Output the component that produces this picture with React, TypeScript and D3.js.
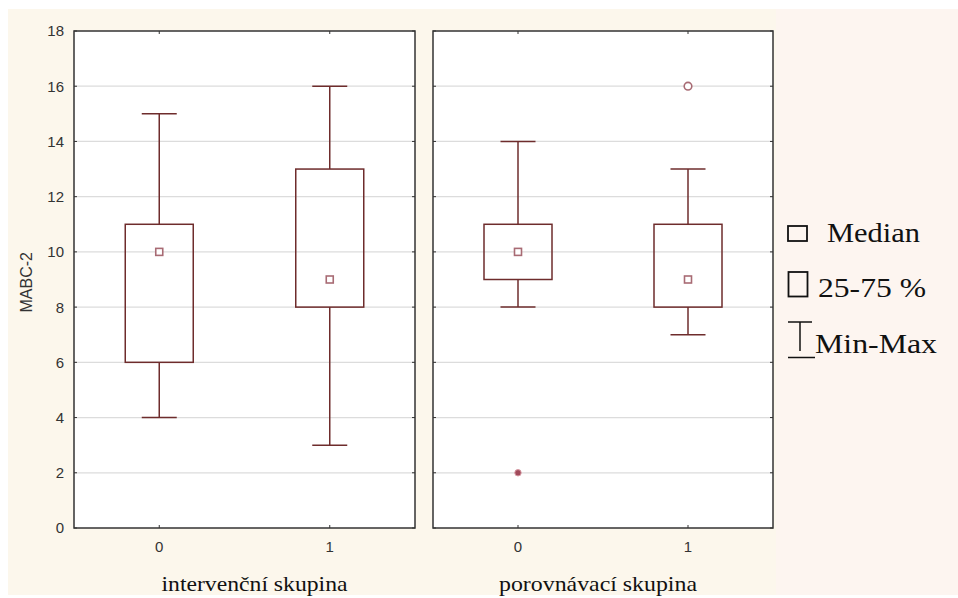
import React, { useRef, useEffect } from 'react';
import * as d3 from 'd3';

// Box plot data (MABC-2)
const groups = ['intervenční skupina', 'porovnávací skupina'];
const categories = ['0', '1'];
const minValues = [[4, 3], [8, 7]];
const q1Values = [[6, 8], [9, 8]];
const medianValues = [[10, 9], [10, 9]];
const q3Values = [[11, 13], [11, 11]];
const maxValues = [[15, 16], [14, 13]];
const outliers = [{ group: 1, cat: '1', value: 16 }];
const extremes = [{ group: 1, cat: '0', value: 2 }];
const yTicks = [0, 2, 4, 6, 8, 10, 12, 14, 16, 18];
const legendLabels = ['Median', '25-75 %', 'Min-Max'];

export default function App() {
  const svgRef = useRef<SVGSVGElement>(null);

  useEffect(() => {
    const w = 958;
    const h = 598;
    const top = 31;
    const bottom = 528;
    const panels = [
      { x0: 74, x1: 415 },
      { x0: 433, x1: 773 },
    ];
    const boxColor = '#6e2c2c';
    const markColor = '#a86b74';
    const sans = "'Liberation Sans', Arial, sans-serif";
    const serif = "'Liberation Serif', 'Times New Roman', serif";

    const svg = d3.select(svgRef.current);
    svg.selectAll('*').remove();
    svg.attr('width', w).attr('height', h);

    // backgrounds
    svg.append('rect').attr('width', w).attr('height', h).attr('fill', '#ffffff');
    svg.append('rect').attr('x', 8).attr('y', 9).attr('width', w - 8).attr('height', h - 12).attr('fill', '#fcf7ec');
    svg.append('rect').attr('x', 776).attr('y', 9).attr('width', w - 776).attr('height', h - 12).attr('fill', '#fdf5f0');

    const yScale = d3.scaleLinear().domain([0, 18]).range([bottom, top]);

    panels.forEach((p, gi) => {
      const xScale = d3.scalePoint<string>().domain(categories).range([p.x0, p.x1]).padding(0.5);
      const g = svg.append('g');

      g.append('rect')
        .attr('x', p.x0).attr('y', top)
        .attr('width', p.x1 - p.x0).attr('height', bottom - top)
        .attr('fill', '#ffffff');

      // grid lines
      g.selectAll('line.grid')
        .data(yTicks.filter(t => t > 0 && t < 18))
        .enter().append('line')
        .attr('x1', p.x0).attr('x2', p.x1)
        .attr('y1', d => yScale(d)).attr('y2', d => yScale(d))
        .attr('stroke', '#dcdcdc').attr('stroke-width', 1.2);

      // y ticks, inside on both sides
      yTicks.forEach(t => {
        g.append('line').attr('x1', p.x0).attr('x2', p.x0 + 3).attr('y1', yScale(t)).attr('y2', yScale(t))
          .attr('stroke', '#333').attr('stroke-width', 1);
        g.append('line').attr('x1', p.x1 - 3).attr('x2', p.x1).attr('y1', yScale(t)).attr('y2', yScale(t))
          .attr('stroke', '#333').attr('stroke-width', 1);
      });

      // x ticks top/bottom
      categories.forEach(c => {
        const x = xScale(c) as number;
        g.append('line').attr('x1', x).attr('x2', x).attr('y1', top).attr('y2', top + 3).attr('stroke', '#333');
        g.append('line').attr('x1', x).attr('x2', x).attr('y1', bottom - 3).attr('y2', bottom).attr('stroke', '#333');
        g.append('text')
          .attr('x', x).attr('y', 552)
          .attr('text-anchor', 'middle')
          .attr('font-family', sans)
          .attr('font-size', 15).attr('fill', '#333')
          .text(c);
      });

      // boxes
      categories.forEach((c, ci) => {
        const x = xScale(c) as number;
        const boxW = 68;
        const capW = 35;
        const mn = minValues[gi][ci];
        const q1 = q1Values[gi][ci];
        const med = medianValues[gi][ci];
        const q3 = q3Values[gi][ci];
        const mx = maxValues[gi][ci];

        g.append('line').attr('x1', x).attr('x2', x).attr('y1', yScale(mx)).attr('y2', yScale(q3))
          .attr('stroke', boxColor).attr('stroke-width', 1.5);
        g.append('line').attr('x1', x).attr('x2', x).attr('y1', yScale(q1)).attr('y2', yScale(mn))
          .attr('stroke', boxColor).attr('stroke-width', 1.5);
        g.append('line').attr('x1', x - capW / 2).attr('x2', x + capW / 2).attr('y1', yScale(mx)).attr('y2', yScale(mx))
          .attr('stroke', boxColor).attr('stroke-width', 1.5);
        g.append('line').attr('x1', x - capW / 2).attr('x2', x + capW / 2).attr('y1', yScale(mn)).attr('y2', yScale(mn))
          .attr('stroke', boxColor).attr('stroke-width', 1.5);
        g.append('rect')
          .attr('x', x - boxW / 2).attr('y', yScale(q3))
          .attr('width', boxW).attr('height', yScale(q1) - yScale(q3))
          .attr('fill', 'none').attr('stroke', boxColor).attr('stroke-width', 1.5);
        g.append('rect')
          .attr('x', x - 3.5).attr('y', yScale(med) - 3.5)
          .attr('width', 7).attr('height', 7)
          .attr('fill', '#fff').attr('stroke', markColor).attr('stroke-width', 1.6);
      });

      outliers.filter(o => o.group === gi).forEach(o => {
        g.append('circle')
          .attr('cx', xScale(o.cat) as number).attr('cy', yScale(o.value)).attr('r', 3.8)
          .attr('fill', '#fff').attr('stroke', markColor).attr('stroke-width', 1.6);
      });

      extremes.filter(o => o.group === gi).forEach(o => {
        g.append('circle')
          .attr('cx', xScale(o.cat) as number).attr('cy', yScale(o.value)).attr('r', 3.2)
          .attr('fill', '#a04a5a').attr('stroke', '#d89aa4').attr('stroke-width', 1);
      });

      // panel border
      g.append('rect')
        .attr('x', p.x0).attr('y', top)
        .attr('width', p.x1 - p.x0).attr('height', bottom - top)
        .attr('fill', 'none').attr('stroke', '#333').attr('stroke-width', 1.5);

      // group label
      const cx = gi === 0 ? 254.5 : 598;
      const len = gi === 0 ? 186 : 198;
      g.append('text')
        .attr('x', cx - len / 2).attr('y', 591)
        .attr('font-family', serif)
        .attr('font-size', 21.5).attr('fill', '#111')
        .attr('textLength', len)
        .attr('lengthAdjust', 'spacingAndGlyphs')
        .text(groups[gi]);
    });

    // y tick labels
    svg.selectAll('text.ytick')
      .data(yTicks)
      .enter().append('text')
      .attr('x', 64).attr('y', d => yScale(d))
      .attr('dy', '0.36em')
      .attr('text-anchor', 'end')
      .attr('font-family', sans)
      .attr('font-size', 15).attr('fill', '#333')
      .text(d => d);

    // y axis title
    svg.append('text')
      .attr('transform', `translate(32, ${yScale(8.9)}) rotate(-90)`)
      .attr('text-anchor', 'middle')
      .attr('font-family', sans)
      .attr('font-size', 16).attr('fill', '#333')
      .text('MABC-2');

    // legend
    const lg = svg.append('g');
    lg.append('rect').attr('x', 788).attr('y', 226).attr('width', 19).attr('height', 15)
      .attr('fill', 'none').attr('stroke', '#111').attr('stroke-width', 1.8);
    lg.append('rect').attr('x', 788.5).attr('y', 272).attr('width', 19).attr('height', 24.5)
      .attr('fill', 'none').attr('stroke', '#111').attr('stroke-width', 1.8);
    lg.append('line').attr('x1', 788).attr('x2', 812).attr('y1', 322).attr('y2', 322).attr('stroke', '#111').attr('stroke-width', 1.5);
    lg.append('line').attr('x1', 800).attr('x2', 800).attr('y1', 322).attr('y2', 351).attr('stroke', '#111').attr('stroke-width', 1.5);
    lg.append('line').attr('x1', 788).attr('x2', 815).attr('y1', 357.5).attr('y2', 357.5).attr('stroke', '#111').attr('stroke-width', 1.5);

    const legendPos = [
      { x: 827, y: 241.5, len: 93 },
      { x: 818, y: 296.5, len: 108 },
      { x: 815, y: 353, len: 122 },
    ];
    legendLabels.forEach((l, i) => {
      lg.append('text')
        .attr('x', legendPos[i].x).attr('y', legendPos[i].y)
        .attr('font-family', serif)
        .attr('font-size', 27).attr('fill', '#111')
        .attr('textLength', legendPos[i].len)
        .attr('lengthAdjust', 'spacingAndGlyphs')
        .text(l);
    });
  }, []);

  return (
    <div>
      <svg ref={svgRef} style={{ position: 'absolute', left: 0, top: 0 }}></svg>
    </div>
  );
}
